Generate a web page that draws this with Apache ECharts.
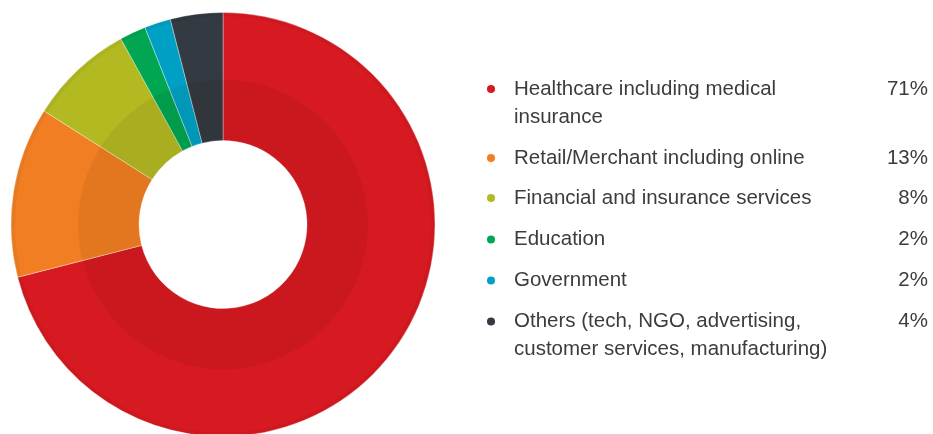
<!DOCTYPE html>
<html>
<head>
<meta charset="utf-8">
<script src="https://cdn.jsdelivr.net/npm/echarts@6/dist/echarts.min.js"></script>
<style>
  html, body { margin: 0; padding: 0; background: #fff; }
  #chart { width: 933px; height: 434px; }
</style>
</head>
<body>
<div id="chart"></div>
<script>
// sectors, clockwise from 12 o'clock
const sectors = [
  'Healthcare including medical insurance',
  'Retail/Merchant including online',
  'Financial and insurance services',
  'Education',
  'Government',
  'Others (tech, NGO, advertising, customer services, manufacturing)'
];
// how the legend text wraps
const labelLines = [
  ['Healthcare including medical', 'insurance'],
  ['Retail/Merchant including online'],
  ['Financial and insurance services'],
  ['Education'],
  ['Government'],
  ['Others (tech, NGO, advertising,', 'customer services, manufacturing)']
];
const shares = [71, 13, 8, 2, 2, 4];
const colors = ['#d71a21', '#f17e22', '#b2b921', '#00a651', '#00a0c4', '#343a41'];

// centre of the first text line of each legend row
const rowY = [88, 156.5, 196.5, 238, 279, 320.5];
const lineH = 28;
const fontFamily = 'Liberation Sans, Arial, sans-serif';

const chart = echarts.init(document.getElementById('chart'));

const legends = sectors.map((name, i) => {
  const twoLines = labelLines[i].length > 1;
  return {
    data: [name],
    orient: 'vertical',
    left: 487,
    // offsets found by trial: legend box top sits a little above the first line
    top: twoLines ? rowY[i] - 9.5 : rowY[i] - 9,
    padding: 0,
    icon: 'circle',
    itemWidth: 8,
    itemHeight: 8,
    itemStyle: { borderWidth: 0 },
    selectedMode: false,
    formatter: () => {
      let s = `{n|${labelLines[i][0]}}{p|${shares[i]}%}`;
      if (twoLines) s += `\n{n|${labelLines[i][1]}}{p|}`;
      return s;
    },
    textStyle: {
      padding: twoLines ? [lineH, 0, 0, 0] : 0,
      rich: {
        n: {
          width: 354, padding: [0, 0, 0, 14],
          fontFamily, fontSize: 20.5, lineHeight: lineH, color: '#3c3c3c'
        },
        p: {
          width: 60, align: 'right',
          fontFamily, fontSize: 20.5, lineHeight: lineH, color: '#3c3c3c'
        }
      }
    }
  };
});

const option = {
  animation: false,
  color: colors,
  legend: legends,
  series: [
    {
      type: 'pie',
      center: [223, 224.5],
      radius: [84, 212],
      startAngle: 90,
      clockwise: true,
      label: { show: false },
      labelLine: { show: false },
      emphasis: { disabled: true },
      itemStyle: { borderColor: 'rgba(255,255,255,0.6)', borderWidth: 0.6 },
      data: sectors.map((name, i) => ({ name, value: shares[i] }))
    },
    {
      // darker inner band
      type: 'pie',
      silent: true,
      center: [223, 224.5],
      radius: [84, 145],
      label: { show: false },
      labelLine: { show: false },
      itemStyle: { color: 'rgba(0,0,0,0.055)' },
      data: [{ name: 'inner-shade', value: 1 }]
    },
    {
      // faint outer rim
      type: 'pie',
      silent: true,
      center: [223, 224.5],
      radius: [208, 212],
      label: { show: false },
      labelLine: { show: false },
      itemStyle: { color: 'rgba(0,0,0,0.04)' },
      data: [{ name: 'outer-shade', value: 1 }]
    }
  ]
};

chart.setOption(option);
</script>
</body>
</html>
